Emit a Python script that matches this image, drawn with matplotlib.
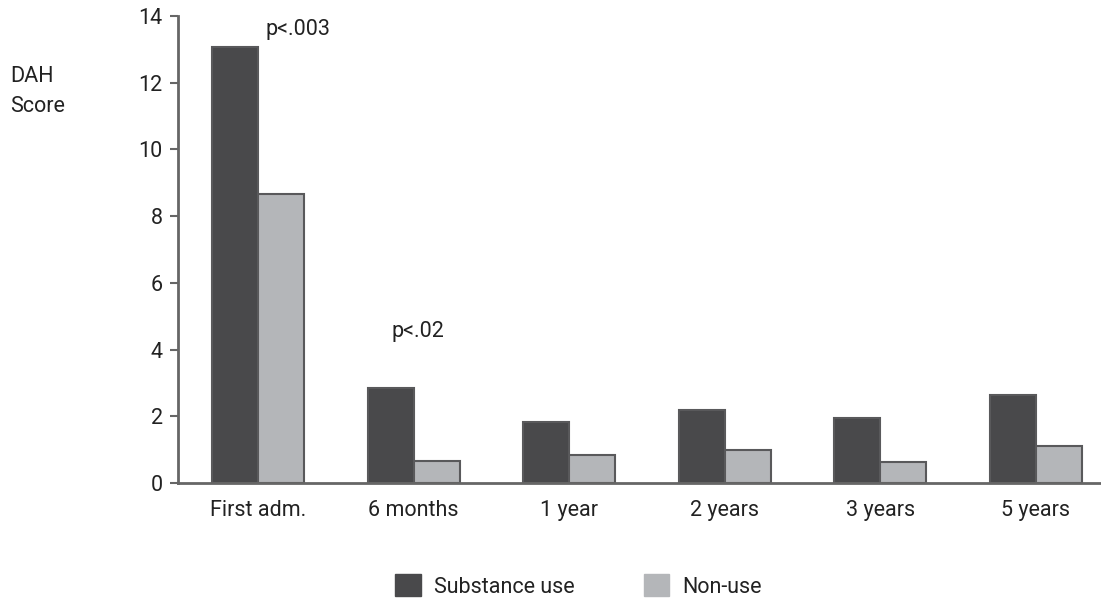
import matplotlib.pyplot as plt
import numpy as np

# values
categories = ['First adm.', '6 months', '1 year', '2 years', '3 years', '5 years']
substance_use = [13.08, 2.86, 1.82, 2.18, 1.96, 2.64]
non_use = [8.66, 0.65, 0.83, 1.00, 0.62, 1.12]
p_labels = ['p<.003', 'p<.02']

plt.rcParams['font.family'] = ['Roboto', 'DejaVu Sans']

dark = '#49494b'
light = '#b4b6b9'
edge = '#59595b'
axis_col = '#666666'
txt_col = '#222222'
fs = 15.5

fig = plt.figure(figsize=(11.01, 5.99), dpi=100)
ax = fig.add_axes([0.1617, 0.1937, 0.8383, 0.7796])

x = np.arange(len(categories))
w = 0.296
ax.bar(x - w / 2, substance_use, w, color=dark, edgecolor=edge, linewidth=1.5)
ax.bar(x + w / 2, non_use, w, color=light, edgecolor=edge, linewidth=1.5)

ax.set_xlim(-0.515, 5.42)
ax.set_ylim(0, 14)
ax.set_yticks(range(0, 15, 2))
ax.set_xticks(x)
ax.set_xticklabels(categories, fontsize=fs, color=txt_col)
ax.tick_params(axis='x', length=0, pad=12)
ax.tick_params(axis='y', length=6, width=1.5, color=axis_col, labelsize=fs,
               labelcolor=txt_col, pad=5)

for side in ['top', 'right']:
    ax.spines[side].set_visible(False)
for side in ['left', 'bottom']:
    ax.spines[side].set_color(axis_col)
    ax.spines[side].set_linewidth(2)

# p-value annotations
ax.text(0.05, 13.6, p_labels[0], fontsize=fs, ha='left', va='center', color=txt_col)
ax.text(1.03, 4.53, p_labels[1], fontsize=fs, ha='center', va='center', color=txt_col)

fig.text(0.009, 0.873, 'DAH', fontsize=fs, ha='left', va='center', color=txt_col)
fig.text(0.009, 0.823, 'Score', fontsize=fs, ha='left', va='center', color=txt_col)

# legend drawn at bottom
handles = [plt.Rectangle((0, 0), 1, 1, color=dark), plt.Rectangle((0, 0), 1, 1, color=light)]
fig.legend(handles, ['Substance use', 'Non-use'], loc='lower center',
           bbox_to_anchor=(0.5255, -0.03), ncol=2, frameon=False, fontsize=fs,
           handlelength=1.2, handleheight=1.2, columnspacing=3.2, handletextpad=0.6,
           labelcolor=txt_col)

fig.savefig('out.png', dpi=100)
